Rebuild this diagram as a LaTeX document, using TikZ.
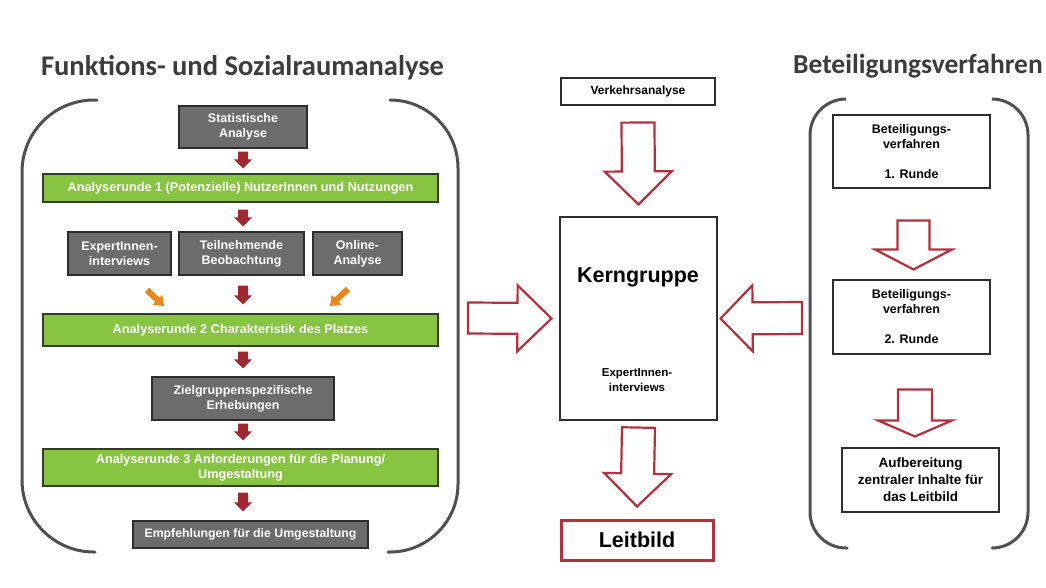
\documentclass[tikz,border=0pt]{standalone}
\usepackage{fontspec}
\setmainfont{Liberation Sans}
\newfontfamily\titlefont{Carlito}
\usetikzlibrary{calc}
\definecolor{boxgray}{RGB}{108,108,108}
\definecolor{boxborder}{RGB}{45,45,45}
\definecolor{boxgreen}{RGB}{134,196,66}
\definecolor{greenborder}{RGB}{50,60,40}
\definecolor{smallred}{RGB}{160,40,48}
\definecolor{arrred}{RGB}{180,48,62}
\definecolor{orangearr}{RGB}{232,135,30}
\definecolor{bracketgray}{RGB}{80,80,80}
\definecolor{titlegray}{RGB}{60,60,60}
\newcommand\fs[2]{\fontsize{#1}{#2}\selectfont\bfseries}
\newcommand\blockarr[6]{%
  \draw[#1] let \p1=(#2), \p2=(#3), \n1={veclen(\x2-\x1,\y2-\y1)-#6} in
    ($(#2)!#4!90:(#3)$) -- ($(#2)!\n1!(#3)!#4!90:(#3)$) -- ($(#2)!\n1!(#3)!#5!90:(#3)$) -- (#3)
    -- ($(#2)!\n1!(#3)!#5!-90:(#3)$) -- ($(#2)!\n1!(#3)!#4!-90:(#3)$) -- ($(#2)!#4!-90:(#3)$) -- cycle;}
\tikzset{
  graybox/.style={draw=boxborder, line width=1.3pt, fill=boxgray, text=white, font=\fs{12.5}{15}, align=center, inner sep=0pt},
  greenbox/.style={draw=greenborder, line width=1.3pt, fill=boxgreen, text=white, font=\fs{12.7}{15}, align=center, inner sep=0pt, minimum width=395pt},
  whitebox/.style={draw=boxborder, line width=1.1pt, fill=white, text=black, align=center, inner sep=0pt},
  bracket/.style={draw=bracketgray, line width=3pt, line cap=round},
  bigarrow/.style={draw=arrred, line width=2.2pt, fill=white, line join=miter},
  smallarrow/.style={fill=smallred, draw=none},
  orangearrow/.style={fill=orangearr, draw=none},
  titletext/.style={font=\titlefont\fontsize{27.5}{30}\selectfont\bfseries, text=titlegray, anchor=base, inner sep=0pt}
}
\begin{document}
\begin{tikzpicture}[x=1pt,y=-1pt]
\useasboundingbox[fill=white] (0,0) rectangle (1046,587);

% titles
\node[titletext, font=\titlefont\fontsize{28.5}{30}\selectfont\bfseries] (tleft) at (242.5,75) {Funktions- und Sozialraumanalyse};
\node[titletext] (tright) at (918,73) {Beteiligungsverfahren};

% brackets
\draw[bracket, rounded corners=72pt] (97,100) -- (22,100) -- (22,552) -- (95,552);
\draw[bracket, rounded corners=68pt] (390,100) -- (458,100) -- (458,552) -- (388,552);
\draw[bracket, rounded corners=36pt] (845,99) -- (810,99) -- (810,548) -- (847,548);
\draw[bracket, rounded corners=36pt] (993,99) -- (1028,99) -- (1028,548) -- (992,548);

% left column
\node[graybox, minimum width=128pt, minimum height=42pt] (stat) at (243,127) {Statistische\\Analyse};
\node[greenbox, minimum height=28pt] (g1) at (240.5,188) {Analyserunde 1 (Potenzielle) NutzerInnen und Nutzungen};
\node[graybox, minimum width=103pt, minimum height=43pt] (ea) at (119.5,253.5) {ExpertInnen-\\interviews};
\node[graybox, minimum width=125pt, minimum height=43pt] (tb) at (241.5,253.5) {Teilnehmende\\Beobachtung};
\node[graybox, minimum width=89pt, minimum height=43pt] (oa) at (357.5,253.5) {Online-\\Analyse};
\node[greenbox, minimum height=32pt] (g2) at (240.5,330) {Analyserunde 2 Charakteristik des Platzes};
\node[graybox, minimum width=182pt, minimum height=43pt] (zg) at (243,398.5) {Zielgruppenspezifische\\Erhebungen};
\node[greenbox, minimum height=37pt, font=\fs{12.7}{15.5}] (g3) at (240.5,467.5) {Analyserunde 3 Anforderungen für die Planung/\\Umgestaltung};
\node[graybox, minimum width=235pt, minimum height=27pt, font=\fs{12.3}{14}] (em) at (250.5,534.5) {Empfehlungen für die Umgestaltung};

% small red arrows
\coordinate (s1a) at ($(stat.south)+(0,3)$);
\coordinate (s1b) at ($(stat.south |- g1.north)+(0,-5)$);
\coordinate (s2a) at ($(stat.south |- g1.south)+(0,7)$);
\coordinate (s2b) at ($(stat.south |- tb.north)+(0,-5)$);
\coordinate (s3a) at ($(stat.south |- tb.south)+(0,10)$);
\coordinate (s3b) at ($(stat.south |- g2.north)+(0,-9)$);
\coordinate (s4a) at ($(stat.south |- g2.south)+(0,5)$);
\coordinate (s4b) at ($(stat.south |- zg.north)+(0,-8)$);
\coordinate (s5a) at ($(zg.south)+(0,3)$);
\coordinate (s5b) at ($(zg.south |- g3.north)+(0,-8)$);
\coordinate (s6a) at ($(zg.south |- g3.south)+(0,6)$);
\coordinate (s6b) at ($(zg.south |- em.north)+(0,-9)$);
\blockarr{smallarrow}{s1a}{s1b}{5pt}{9pt}{9}
\blockarr{smallarrow}{s2a}{s2b}{5pt}{9pt}{9}
\blockarr{smallarrow}{s3a}{s3b}{5pt}{9pt}{9}
\blockarr{smallarrow}{s4a}{s4b}{5pt}{9pt}{9}
\blockarr{smallarrow}{s5a}{s5b}{5pt}{9pt}{9}
\blockarr{smallarrow}{s6a}{s6b}{5pt}{9pt}{9}

% orange arrows
\coordinate (o1a) at (147,290);
\coordinate (o1b) at (164,306);
\coordinate (o2a) at (348,289);
\coordinate (o2b) at (330,306);
\blockarr{orangearrow}{o1a}{o1b}{3pt}{7pt}{9}
\blockarr{orangearrow}{o2a}{o2b}{3pt}{7pt}{9}

% middle column
\node[whitebox, minimum width=154pt, minimum height=27pt, font=\fs{12}{14}] (verk) at (638,91.5) {Verkehrsanalyse};
\node[whitebox, minimum width=157pt, minimum height=203pt] (kern) at (638.5,318.5) {};
\node[font=\fs{21.5}{24}, inner sep=0pt] (kernt) at (638,277) {Kerngruppe};
\node[font=\fs{11.5}{15}, align=center, inner sep=0pt] (kernx) at (637,380) {ExpertInnen-\\interviews};
\node[draw=arrred, line width=3pt, fill=white, minimum width=152pt, minimum height=40pt, inner sep=0pt, font=\fs{21.5}{24}] (leit) at (637,540) {Leitbild};

% right column
\node[whitebox, minimum width=157pt, minimum height=73pt, font=\fs{12.5}{15}] (b1) at (911.5,151.5) {Beteiligungs-\\verfahren\\[15pt]1. Runde};
\node[whitebox, minimum width=157pt, minimum height=74pt, font=\fs{12.5}{15}] (b2) at (911.5,317) {Beteiligungs-\\verfahren\\[15pt]2. Runde};
\node[whitebox, minimum width=157pt, minimum height=64pt, font=\fs{13.5}{17}] (b3) at (920.5,480) {Aufbereitung\\zentraler Inhalte für\\das Leitbild};

% big outline arrows
\coordinate (ba1) at ($(verk.south)+(0,17)$);
\coordinate (bb1) at ($(kern.north)+(0,-12)$);
\coordinate (ba2) at ($(kern.south)+(0,7)$);
\coordinate (bb2) at ($(leit.north)+(0,-12)$);
\coordinate (ba3) at (468,318);
\coordinate (bb3) at ($(kern.west)+(-8,0)$);
\coordinate (ba4) at (802,318);
\coordinate (bb4) at ($(kern.east)+(3,0)$);
\coordinate (ba5) at ($(b1.south)+(2,32)$);
\coordinate (bb5) at ($(b2.north)+(2,-10)$);
\coordinate (ba6) at ($(b2.south)+(3.5,35)$);
\coordinate (bb6) at ($(b2.south |- b3.north)+(3.5,-11)$);
\blockarr{bigarrow}{ba1}{bb1}{16.5pt}{33.5pt}{33}
\blockarr{bigarrow}{ba2}{bb2}{16.5pt}{33.5pt}{33}
\blockarr{bigarrow}{ba3}{bb3}{15.5pt}{33pt}{34}
\blockarr{bigarrow}{ba4}{bb4}{16pt}{33pt}{32}
\blockarr{bigarrow}{ba5}{bb5}{16pt}{38.5pt}{20}
\blockarr{bigarrow}{ba6}{bb6}{17pt}{37pt}{16}
\end{tikzpicture}
\end{document}
